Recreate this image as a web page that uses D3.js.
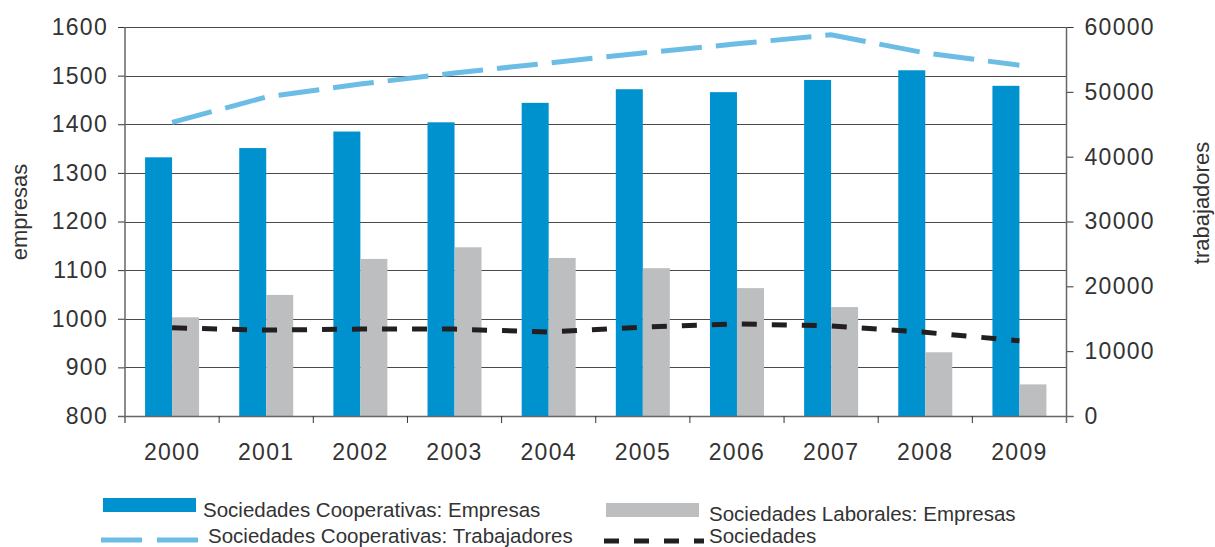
<!DOCTYPE html>
<html>
<head>
<meta charset="utf-8">
<script src="https://cdn.jsdelivr.net/npm/d3@7"></script>
<style>
  body { margin: 0; background: #fff; }
  text { font-family: "Liberation Sans", Arial, sans-serif; fill: #333; }
</style>
</head>
<body>
<div id="chart"></div>
<script>
// Data
const years = ["2000", "2001", "2002", "2003", "2004", "2005", "2006", "2007", "2008", "2009"];
const coopEmpresas = [1332, 1351, 1385, 1404, 1444, 1472, 1466, 1491, 1511, 1479];
const laboralesEmpresas = [1003, 1049, 1123, 1147, 1125, 1104, 1063, 1024, 931, 865];
const coopTrabajadores = [45300, 49200, 51200, 52900, 54450, 56000, 57400, 58800, 56000, 54100];
const sociedades = [13600, 13250, 13400, 13400, 12950, 13700, 14200, 13900, 12900, 11600];
const leftTicks = [800, 900, 1000, 1100, 1200, 1300, 1400, 1500, 1600];
const rightTicks = [0, 10000, 20000, 30000, 40000, 50000, 60000];

const W = 1215, H = 547;
const margin = { top: 27, right: 148.5, bottom: 131, left: 125 };
const width = W - margin.left - margin.right;
const height = H - margin.top - margin.bottom;

const svg = d3.select("#chart").append("svg")
    .attr("width", W)
    .attr("height", H);

const g = svg.append("g")
    .attr("transform", `translate(${margin.left},${margin.top})`);

// Scales
const x = d3.scaleBand().domain(years).range([0, width]);
const yL = d3.scaleLinear().domain([800, 1600]).range([height, 0]);
const yR = d3.scaleLinear().domain([0, 60000]).range([height, 0]);

// Grid lines
g.append("g")
    .selectAll("line")
    .data(leftTicks)
    .enter()
    .append("line")
    .attr("x1", 0)
    .attr("x2", width)
    .attr("y1", d => Math.round(yL(d)) + 0.5)
    .attr("y2", d => Math.round(yL(d)) + 0.5)
    .attr("stroke", "#4a4a4a")
    .attr("stroke-width", 1.2);

// Bars
const barW = 27;
const pad = (x.bandwidth() - 2 * barW) / 2;

g.append("g")
    .selectAll("rect")
    .data(years)
    .enter()
    .append("rect")
    .attr("x", (d, i) => x(d) + pad)
    .attr("y", (d, i) => yL(coopEmpresas[i]))
    .attr("width", barW)
    .attr("height", (d, i) => height - yL(coopEmpresas[i]))
    .attr("fill", "#0092cf");

g.append("g")
    .selectAll("rect")
    .data(years)
    .enter()
    .append("rect")
    .attr("x", (d, i) => x(d) + pad + barW)
    .attr("y", (d, i) => yL(laboralesEmpresas[i]))
    .attr("width", barW)
    .attr("height", (d, i) => height - yL(laboralesEmpresas[i]))
    .attr("fill", "#bdbec0");

// Lines (right axis)
const cx = d => x(d) + x.bandwidth() / 2;

const lineR = d3.line()
    .x((d, i) => cx(years[i]))
    .y(d => yR(d));

g.append("path")
    .datum(coopTrabajadores)
    .attr("d", lineR)
    .attr("fill", "none")
    .attr("stroke", "#6cbde6")
    .attr("stroke-width", 5)
    .attr("stroke-dasharray", "41,14");

g.append("path")
    .datum(sociedades)
    .attr("d", lineR)
    .attr("fill", "none")
    .attr("stroke", "#231f20")
    .attr("stroke-width", 5)
    .attr("stroke-dasharray", "15,15");

// Axes
const axisColor = "#666";
const tickFont = "23px";
const tickSpacing = "1.3px";

const leftAxis = g.append("g")
    .call(d3.axisLeft(yL).tickValues(leftTicks).tickSize(7).tickPadding(10).tickFormat(d3.format("d")));

const rightAxis = g.append("g")
    .attr("transform", `translate(${width},0)`)
    .call(d3.axisRight(yR).tickValues(rightTicks).tickSize(7).tickPadding(11).tickFormat(d3.format("d")));

// X axis: ticks on the category boundaries
const bottom = g.append("g").attr("transform", `translate(0,${height})`);
bottom.append("line")
    .attr("x1", -7).attr("x2", width + 7)
    .attr("y1", 0.5).attr("y2", 0.5)
    .attr("stroke", axisColor).attr("stroke-width", 1.5);
bottom.selectAll(".btick")
    .data(years.slice(1))
    .enter()
    .append("line")
    .attr("x1", d => x(d)).attr("x2", d => x(d))
    .attr("y1", 0).attr("y2", 7)
    .attr("stroke", "#333");
bottom.selectAll(".blabel")
    .data(years)
    .enter()
    .append("text")
    .attr("x", d => cx(d))
    .attr("y", 44)
    .attr("text-anchor", "middle")
    .style("font-size", tickFont)
    .style("letter-spacing", tickSpacing)
    .text(d => d);

[leftAxis, rightAxis].forEach(a => {
    a.select(".domain").remove();
    a.selectAll(".tick line").attr("stroke", "#333");
    a.selectAll("text")
        .style("font-size", tickFont)
        .style("letter-spacing", tickSpacing)
        .attr("fill", "#333");
});

// Vertical axis lines
[0, width].forEach(px => {
    g.append("line")
        .attr("x1", px).attr("x2", px)
        .attr("y1", 0).attr("y2", height + 7)
        .attr("stroke", axisColor).attr("stroke-width", 1.5);
});

// Axis titles
svg.append("text")
    .attr("transform", `translate(27,${margin.top + 185}) rotate(-90)`)
    .attr("text-anchor", "middle")
    .style("font-size", "22px")
    .text("empresas");

svg.append("text")
    .attr("transform", `translate(1209,${margin.top + 176}) rotate(-90)`)
    .attr("text-anchor", "middle")
    .style("font-size", "22px")
    .text("trabajadores");

// Legend
const legend = svg.append("g");
legend.append("rect")
    .attr("x", 103).attr("y", 498).attr("width", 93).attr("height", 14)
    .attr("fill", "#0092cf");
legend.append("text")
    .attr("x", 203).attr("y", 517)
    .style("font-size", "20.5px")
    .text("Sociedades Cooperativas: Empresas");

legend.append("line")
    .attr("x1", 101).attr("x2", 198).attr("y1", 540).attr("y2", 540)
    .attr("stroke", "#6cbde6").attr("stroke-width", 5)
    .attr("stroke-dasharray", "41,15");
legend.append("text")
    .attr("x", 208).attr("y", 543)
    .style("font-size", "20.5px")
    .text("Sociedades Cooperativas: Trabajadores");

legend.append("rect")
    .attr("x", 606).attr("y", 503).attr("width", 93).attr("height", 14)
    .attr("fill", "#bdbec0");
legend.append("text")
    .attr("x", 709).attr("y", 521)
    .style("font-size", "20.5px")
    .text("Sociedades Laborales: Empresas");

legend.append("line")
    .attr("x1", 604).attr("x2", 704).attr("y1", 541).attr("y2", 541)
    .attr("stroke", "#231f20").attr("stroke-width", 5)
    .attr("stroke-dasharray", "15,15");
legend.append("text")
    .attr("x", 709).attr("y", 543)
    .style("font-size", "20.5px")
    .text("Sociedades");
</script>
</body>
</html>
